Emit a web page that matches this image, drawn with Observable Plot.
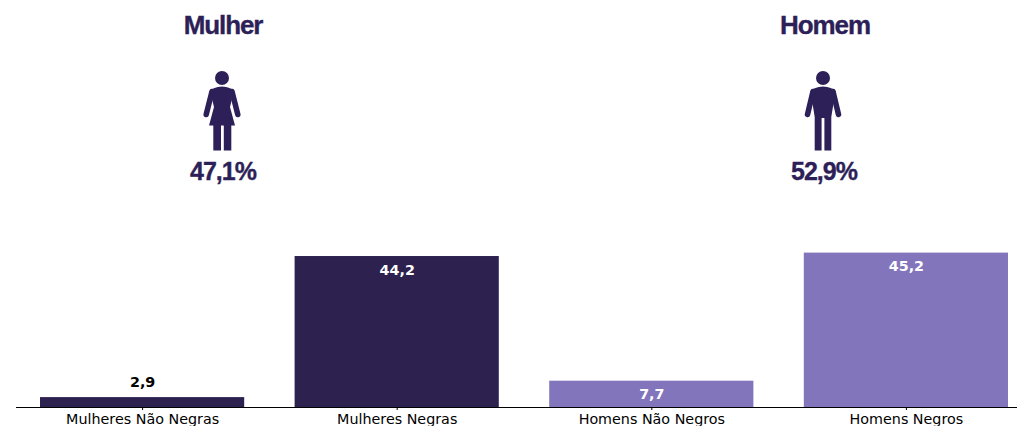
<!DOCTYPE html>
<html lang="pt">
<head>
<meta charset="utf-8">
<script src="https://cdn.jsdelivr.net/npm/d3@7"></script>
<script src="https://cdn.jsdelivr.net/npm/@observablehq/plot@0.6"></script>
<style>
html,body{margin:0;padding:0;background:#fff;overflow:hidden}
#page{position:relative;width:1017px;height:426px;overflow:hidden}
#header{position:relative;width:1017px;height:200px;color:#2d1f57;font-family:"Liberation Sans",Arial,sans-serif;font-weight:700}
.t,.p{position:absolute;width:200px;text-align:center;line-height:1;white-space:nowrap;-webkit-text-stroke:.35px #2d1f57}
.t{top:12px;font-size:26px;letter-spacing:-1.100px}
.p{top:158.500px;font-size:25px;letter-spacing:-1px}
.i{position:absolute;top:71px;width:40px;height:80px;display:block;fill:#2d1f57}
.i line{stroke:#2d1f57;stroke-width:5.500;stroke-linecap:round}
#chart svg{display:block}
</style>
</head>
<body>
<div id="page">
  <div id="header">
    <div class="t" style="left:123px">Mulher</div>
    <svg class="i" style="left:202.300px" viewBox="-20 0 40 80">
      <circle cx="0" cy="7" r="7"/>
      <line x1="-10" y1="20.500" x2="-15.800" y2="43.500"/><line x1="10" y1="20.500" x2="15.800" y2="43.500"/>
      <path d="M-12 20Q-9 16 0 15.500Q9 16 12 20L8 36L13 54.500H-13L-8 36Z"/>
      <rect x="-8.700" y="54" width="7.700" height="25.500"/><rect x="1.800" y="54" width="7.500" height="25.500"/>
    </svg>
    <div class="p" style="left:123px">47,1%</div>
    <div class="t" style="left:725px">Homem</div>
    <svg class="i" style="left:802.500px" viewBox="-20 0 40 80">
      <circle cx="0" cy="7" r="7"/>
      <line x1="-10" y1="20.500" x2="-15.500" y2="43.500"/><line x1="10" y1="20.500" x2="15.500" y2="43.500"/>
      <path d="M-12.500 20Q-9 16 0 15.500Q9 16 12.500 20L8.300 46V79.500H1.400V47H-1.400V79.500H-8.300V46Z"/>
    </svg>
    <div class="p" style="left:724px">52,9%</div>
  </div>
  <div id="chart"></div>
</div>
<script>
const categories = ["Mulheres Não Negras", "Mulheres Negras", "Homens Não Negros", "Homens Negros"];
const values = [2.9, 44.2, 7.7, 45.2];
const groups = ["Mulher", "Mulher", "Homem", "Homem"];
const rows = categories.map((c, i) => ({c, v: values[i], g: groups[i], label: String(values[i]).replace(".", ",")}));
const font = "'DejaVu Sans', sans-serif";
const chart = Plot.plot({
  width: 1017,
  height: 226,
  marginTop: 0,
  marginLeft: 16,
  marginRight: 0,
  marginBottom: 19,
  style: {background: "#fff", fontFamily: font},
  x: {domain: categories, range: [-10.4, 1058.4], padding: 0.198, round: false, label: null},
  y: {domain: [0, 60.6], axis: null},
  color: {domain: ["Mulher", "Homem"], range: ["#2d224f", "#8375bc"]},
  marks: [
    Plot.barY(rows, {x: "c", y: "v", fill: "g"}),
    Plot.ruleY([0], {stroke: "#000", strokeWidth: 1}),
    Plot.axisX({tickSize: 3, tickPadding: 3.500, fontSize: 14.300, fill: "#000", label: null, tickFormat: d => d}),
    Plot.text(rows.filter(d => d.v > 5), {x: "c", y: "v", text: "label", dy: 13.500, fill: "#fff", fontWeight: 700, fontSize: 14.300}),
    Plot.text(rows.filter(d => d.v <= 5), {x: "c", y: "v", text: "label", dy: -15, fill: "#000", fontWeight: 700, fontSize: 14.300})
  ]
});
document.getElementById("chart").append(chart);
</script>
</body>
</html>
